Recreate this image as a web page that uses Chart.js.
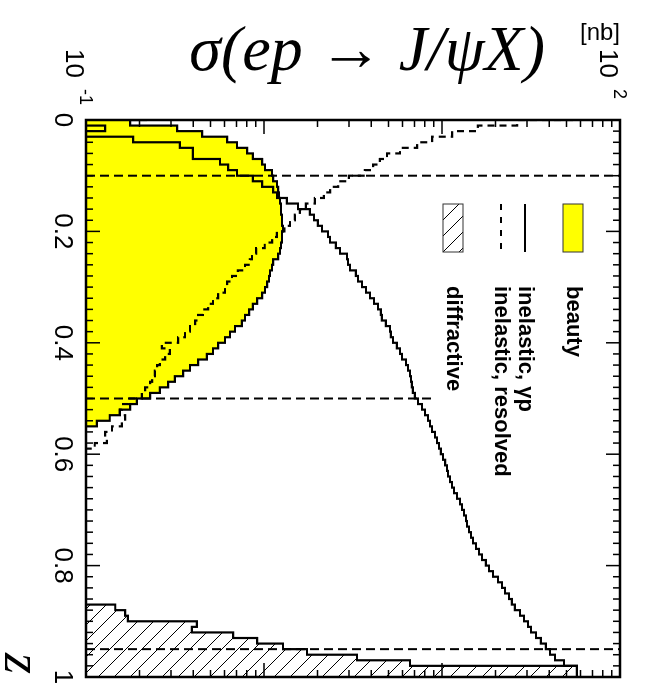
<!DOCTYPE html>
<html>
<head>
<meta charset="utf-8">
<script src="https://cdn.jsdelivr.net/npm/chart.js@4.4.1/dist/chart.umd.min.js"></script>
<style>
html,body{margin:0;padding:0;background:#fff;overflow:hidden;}
/* the plot is drawn the usual way round (z along x) and the whole canvas is turned a quarter clockwise */
#wrap{position:absolute;left:0;top:0;width:686px;height:647px;transform-origin:0 0;transform:translate(647px,0) rotate(90deg);}
</style>
</head>
<body>
<div id="wrap"><canvas id="c" width="686" height="647"></canvas></div>
<script>
// bin edges in z, 100 bins of 0.01
const zEdges = Array.from({length: 101}, (_, i) => i / 100);

// sigma per bin [nb]; 0.05 = below the axis
const beautyStart = 0;
const beauty = [0.220,0.177,0.325,0.449,0.620,0.705,0.803,0.867,0.975,1.013,
  1.109,1.124,1.183,1.199,1.214,1.230,1.246,1.246,1.262,1.262,
  1.279,1.262,1.262,1.246,1.230,1.199,1.124,1.109,1.081,1.067,
  1.040,1.013,0.975,0.914,0.867,0.824,0.782,0.752,0.687,0.644,
  0.604,0.552,0.517,0.478,0.426,0.384,0.351,0.316,0.289,0.260,
  0.229,0.193,0.177,0.155,0.136,0.115,0.05];

const gpStart = 0;
const inelGp = [0.05,0.05,0.128,0.05,0.184,0.337,0.399,0.399,0.566,0.628,
  0.705,0.867,0.975,1.124,1.183,1.346,1.552,1.812,1.910,2.010,
  2.117,2.289,2.349,2.537,2.673,2.926,2.965,3.042,3.286,3.373,
  3.552,3.741,3.940,4.149,4.369,4.540,4.600,4.843,5.102,5.168,
  5.304,5.585,5.808,5.961,6.279,6.442,6.610,6.695,6.781,6.869,
  7.047,7.330,7.720,8.027,8.346,8.563,8.786,9.135,9.372,9.617,
  9.867,10.13,10.40,10.67,10.81,11.09,11.38,11.68,12.14,12.62,
  12.95,13.29,13.64,13.82,14.18,14.55,14.93,15.52,16.14,16.78,
  17.66,18.37,19.34,20.64,21.73,22.59,23.79,24.72,25.70,27.42,
  28.88,30.41,31.62,33.74,35.97,38.37,40.43,43.13,48.45,57.32];

const resStart = 0;
const inelRes = [54.4,26.4,15.9,11.4,8.79,7.24,5.81,4.91,4.48,4.10,
  3.69,3.00,2.61,2.35,2.17,1.93,1.72,1.59,1.49,1.40,
  1.30,1.18,1.11,1.01,0.902,0.856,0.834,0.782,0.714,0.661,
  0.620,0.604,0.552,0.517,0.485,0.454,0.426,0.410,0.384,0.360,
  0.329,0.267,0.296,0.278,0.260,0.251,0.244,0.235,0.229,0.215,
  0.206,0.172,0.159,0.155,0.166,0.159,0.140,0.128,0.131,0.112,
  0.05];

const diffStart = 87;
const diffr = [0.05,0.146,0.166,0.172,0.420,0.393,0.670,0.914,1.279,1.744,3.33,6.61,57.3];

// cut lines
const cutZ = [0.1, 0.5, 0.95];
const cutTop = [100, 9, 100];

// axis labels
const zTickVals = [0, 0.2, 0.4, 0.6, 0.8, 1];
const zTickLabels = ['0', '0.2', '0.4', '0.6', '0.8', '1'];
const yLabelVals = [0.1, 100];
const yLabelExp = ['-1', '2'];

const legendLabels = ['beauty', '', 'inelastic, \u03b3p', 'inelastic, resolved', '', 'diffractive'];
const legendKinds = ['box', '', 'solid', 'dash', '', 'hatch'];

function histPoints(start, vals) {
  const pts = vals.map((v, i) => ({x: zEdges[start + i], y: v}));
  pts.push({x: zEdges[start + vals.length], y: vals[vals.length - 1]});
  return pts;
}

const cv = document.getElementById('c');
const mainCtx = cv.getContext('2d');

function makeHatch() {
  const c = document.createElement('canvas');
  c.width = 16; c.height = 16;
  const g = c.getContext('2d');
  g.strokeStyle = '#000'; g.lineWidth = 1;
  g.beginPath();
  g.moveTo(-2, -2); g.lineTo(18, 18);
  g.moveTo(-2, 14); g.lineTo(2, 18);
  g.moveTo(14, -2); g.lineTo(18, 2);
  g.stroke();
  return mainCtx.createPattern(c, 'repeat');
}
const hatch = makeHatch();

const histStyle = {borderColor: '#000', borderWidth: 2.2, stepped: 'after', pointRadius: 0};

const datasets = [
  Object.assign({label: 'beauty', data: histPoints(beautyStart, beauty), backgroundColor: '#ffff00', fill: 'start', order: 10}, histStyle),
  Object.assign({label: 'diffractive', data: histPoints(diffStart, diffr), backgroundColor: hatch, fill: 'start', order: 6}, histStyle),
  Object.assign({label: 'inelastic, gp', data: histPoints(gpStart, inelGp), fill: false, order: 3}, histStyle),
  Object.assign({label: 'inelastic, resolved', data: histPoints(resStart, inelRes), fill: false, borderDash: [7, 5], order: 2}, histStyle)
];
cutZ.forEach((z, i) => {
  datasets.push({label: 'cut', data: [{x: z, y: 0.1}, {x: z, y: cutTop[i]}], borderColor: '#000', borderWidth: 2,
    borderDash: [9, 5], pointRadius: 0, fill: false, order: 1});
});

const deco = {
  id: 'deco',
  afterDraw(chart) {
    const {ctx, chartArea: a} = chart;
    const x = chart.scales.x, y = chart.scales.y;
    ctx.save();
    ctx.strokeStyle = '#000';
    ctx.fillStyle = '#000';
    ctx.setLineDash([]);

    // ticks on all four sides, pointing inwards
    ctx.lineWidth = 1.5;
    ctx.beginPath();
    for (let i = 0; i <= 50; i++) {
      const px = x.getPixelForValue(i / 50);
      const len = i % 10 === 0 ? 14 : 7;
      ctx.moveTo(px, a.bottom); ctx.lineTo(px, a.bottom - len);
      ctx.moveTo(px, a.top); ctx.lineTo(px, a.top + len);
    }
    for (let d = -1; d < 2; d++) {
      for (let m = 1; m < 10; m++) {
        const py = y.getPixelForValue(m * Math.pow(10, d));
        const len = m === 1 ? 14 : 7;
        ctx.moveTo(a.left, py); ctx.lineTo(a.left + len, py);
        ctx.moveTo(a.right, py); ctx.lineTo(a.right - len, py);
      }
    }
    ctx.stroke();

    // frame
    ctx.lineWidth = 2.5;
    ctx.strokeRect(a.left, a.top, a.right - a.left, a.bottom - a.top);

    // z labels
    ctx.font = '26px "Liberation Sans", Arial, sans-serif';
    ctx.textAlign = 'center';
    ctx.textBaseline = 'alphabetic';
    zTickVals.forEach((v, i) => ctx.fillText(zTickLabels[i], x.getPixelForValue(v), a.bottom + 31));

    // y labels 10^n
    yLabelVals.forEach((v, i) => {
      const py = y.getPixelForValue(v);
      ctx.font = '26px "Liberation Sans", Arial, sans-serif';
      ctx.textAlign = 'right';
      ctx.fillText('10', a.left - 42, py + 20);
      ctx.font = '18px "Liberation Sans", Arial, sans-serif';
      ctx.textAlign = 'left';
      ctx.fillText(yLabelExp[i], a.left - 31, py + 6);
    });

    // axis titles
    ctx.textAlign = 'right';
    ctx.font = 'italic 54px "Liberation Serif", "DejaVu Serif", serif';
    ctx.fillText('z', a.right - 3, a.bottom + 81);

    ctx.save();
    ctx.translate(70, a.top + 75);
    ctx.rotate(-Math.PI / 2);
    ctx.font = 'italic 64px "Liberation Serif", "DejaVu Serif", serif';
    ctx.fillText('\u03c3(ep \u2192 J/\u03c8X)', 0, 0);
    ctx.restore();

    ctx.save();
    ctx.translate(40, a.top);
    ctx.rotate(-Math.PI / 2);
    ctx.font = '24px "Liberation Sans", Arial, sans-serif';
    ctx.fillText('[nb]', 0, 0);
    ctx.restore();

    // legend
    ctx.font = 'bold 22px "Liberation Sans", Arial, sans-serif';
    ctx.textAlign = 'left';
    ctx.textBaseline = 'middle';
    legendLabels.forEach((t, i) => {
      const cy = a.top + 47 + 24 * i;
      const k = legendKinds[i];
      if (!k) return;
      ctx.setLineDash([]);
      if (k === 'box' || k === 'hatch') {
        ctx.fillStyle = k === 'box' ? '#ffff00' : hatch;
        ctx.fillRect(204, cy - 10, 48, 20);
        ctx.lineWidth = 1;
        ctx.strokeStyle = '#333';
        ctx.strokeRect(204, cy - 10, 48, 20);
      } else {
        ctx.strokeStyle = '#000';
        ctx.lineWidth = 2;
        if (k === 'dash') ctx.setLineDash([6, 7]);
        ctx.beginPath(); ctx.moveTo(204, cy); ctx.lineTo(252, cy); ctx.stroke();
      }
      ctx.setLineDash([]);
      ctx.fillStyle = '#000';
      ctx.fillText(t, 286, cy);
    });
    ctx.restore();
  }
};

new Chart(cv, {
  type: 'line',
  data: {datasets},
  options: {
    responsive: false,
    animation: false,
    devicePixelRatio: 1,
    layout: {padding: {left: 120, top: 27, right: 9, bottom: 86}},
    plugins: {legend: {display: false}, tooltip: {enabled: false}},
    scales: {
      x: {type: 'linear', min: 0, max: 1, display: false},
      y: {type: 'logarithmic', min: 0.1, max: 100, display: false}
    }
  },
  plugins: [deco]
});
</script>
</body>
</html>
